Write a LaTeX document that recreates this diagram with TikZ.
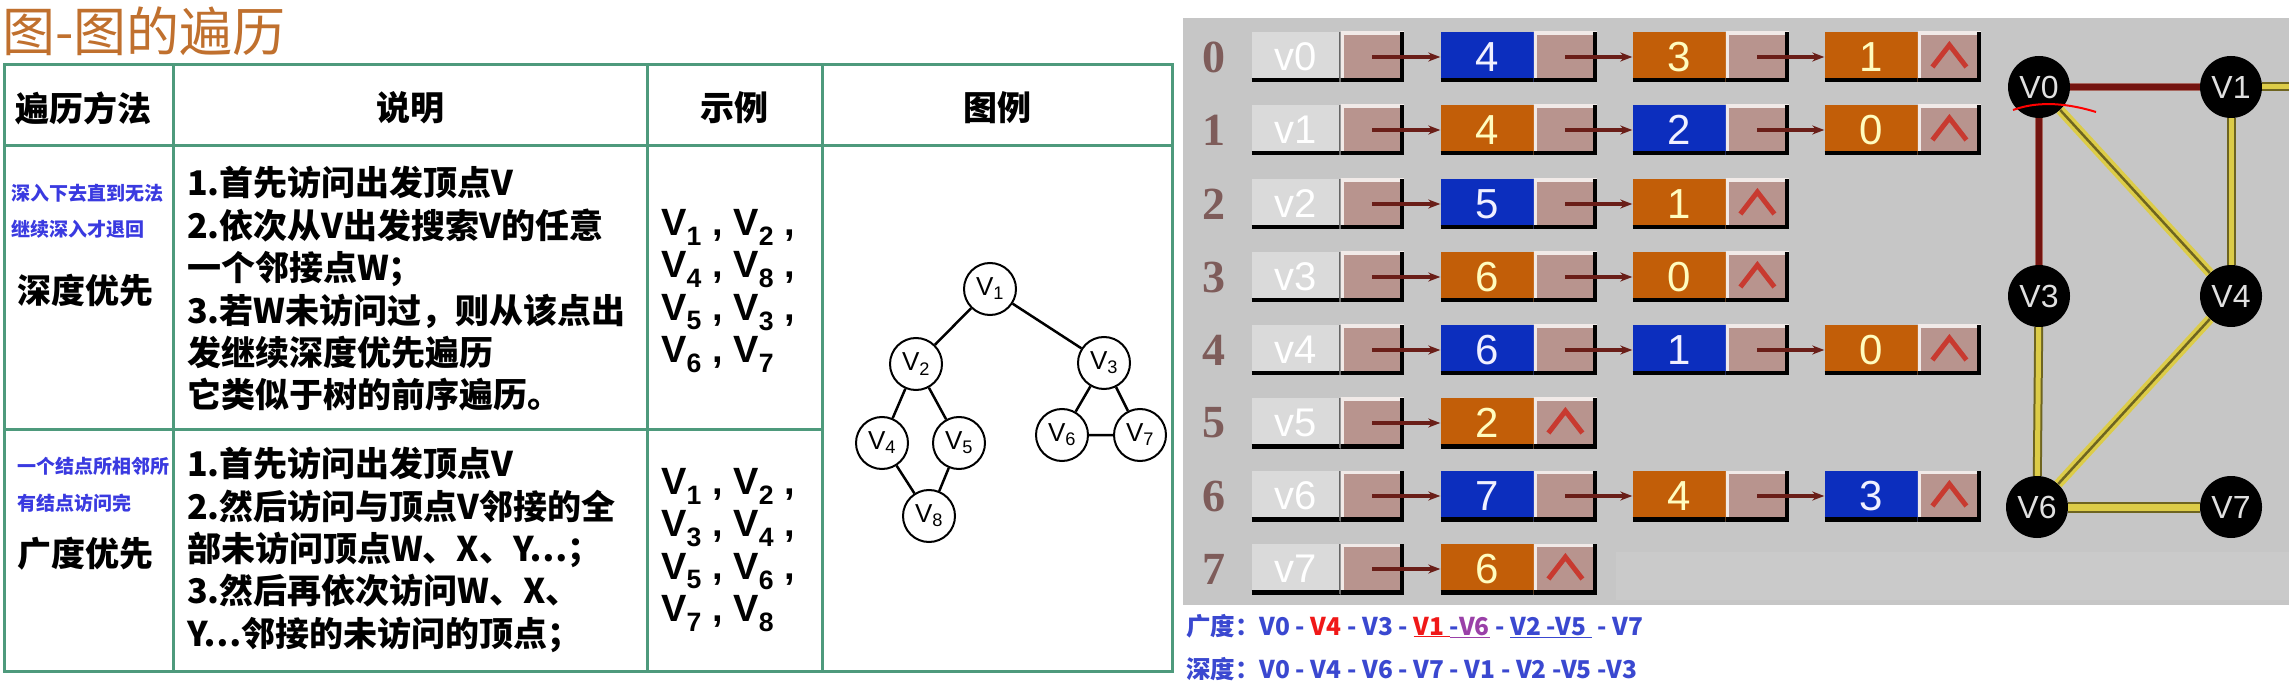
\documentclass[tikz,border=0pt]{standalone}
\usepackage{fontspec}
\setmainfont{Liberation Sans}
\newfontfamily\cjk{Noto Sans CJK SC}
\newfontfamily\numserif{Liberation Serif}
\usetikzlibrary{arrows.meta,positioning}

\definecolor{titlebrown}{HTML}{C0702E}
\definecolor{tabgreen}{HTML}{4E9A7C}
\definecolor{noteblue}{HTML}{3A3AE0}
\definecolor{panelgray}{HTML}{C6C6C6}
\definecolor{cellblue}{HTML}{0C2EBE}
\definecolor{cellorange}{HTML}{C25E08}
\definecolor{ptrpink}{HTML}{B8948E}
\definecolor{vexgray}{HTML}{DADADA}
\definecolor{linkred}{HTML}{6A1E18}
\definecolor{nullred}{HTML}{C83A30}
\definecolor{idxbrown}{HTML}{7E5C5A}
\definecolor{edgered}{HTML}{741410}
\definecolor{edgepink}{HTML}{A86860}
\definecolor{edgeyellow}{HTML}{DCCC48}
\definecolor{edgeolive}{HTML}{6E6420}
\definecolor{textblue}{HTML}{3A48D0}
\definecolor{textred}{HTML}{F01818}
\definecolor{textpurple}{HTML}{9A40A8}

\begin{document}
\begin{tikzpicture}[
  x=1pt,y=-1pt,
  tabline/.style={draw=tabgreen,line width=3},
  head/.style={font=\cjk\bfseries\fontsize{34}{40}\selectfont,inner sep=0},
  note/.style={font=\cjk\bfseries\fontsize{19}{22}\selectfont,text=noteblue,inner sep=0,anchor=west},
  method/.style={font=\cjk\bfseries\fontsize{34}{40}\selectfont,inner sep=0,anchor=west},
  body/.style={font=\cjk\bfseries\fontsize{34}{42.4}\selectfont,align=left,inner sep=0,anchor=west},
  vlist/.style={font=\bfseries\fontsize{38}{42.4}\selectfont,align=left,inner sep=0,anchor=west},
  gnode/.style={circle,draw,line width=2,fill=white,minimum size=52,inner sep=0,font=\fontsize{26}{26}\selectfont},
  gedge/.style={line width=2.5},
  idx/.style={font=\numserif\bfseries\fontsize{46}{46}\selectfont,text=idxbrown},
  vexbox/.style={fill=vexgray,minimum width=89,minimum height=50,inner sep=0,text=white,
    font=\fontsize{40}{40}\selectfont,
    path picture={\draw[black,line width=8] (path picture bounding box.south west) -- (path picture bounding box.south east);
      \draw[black!60,line width=4] (path picture bounding box.north east) -- (path picture bounding box.south east);}},
  cell/.style={minimum width=93,minimum height=50,inner sep=0,font=\fontsize{42}{42}\selectfont,
    path picture={\draw[black,line width=8] (path picture bounding box.south west) -- (path picture bounding box.south east);}},
  bluecell/.style={cell,fill=cellblue,text=blue!6!white},
  orangecell/.style={cell,fill=cellorange,text=yellow!25!white},
  ptr/.style={fill=ptrpink,minimum width=63,minimum height=50,inner sep=0,
    path picture={\draw[white!80!ptrpink,line width=6] (path picture bounding box.south west) -- (path picture bounding box.north west) -- (path picture bounding box.north east);
      \draw[black,line width=8] (path picture bounding box.north east) -- (path picture bounding box.south east) -- (path picture bounding box.south west);}},
  nil/.style={fill=ptrpink,minimum width=63,minimum height=50,inner sep=0,
    path picture={\draw[white!80!ptrpink,line width=6] (path picture bounding box.south west) -- (path picture bounding box.north west) -- (path picture bounding box.north east);
      \draw[black,line width=8] (path picture bounding box.north east) -- (path picture bounding box.south east) -- (path picture bounding box.south west);
      \draw[nullred,line width=5,shift={(path picture bounding box.center)}] (-17,10) -- (0,-12) -- (17,10);}},
  link/.style={-{Stealth[length=12pt,width=9pt]},linkred,line width=3.5},
  vnode/.style={circle,fill=black,minimum size=62,inner sep=0,text=white!88!black,font=\fontsize{32}{32}\selectfont},
  redge/.style={draw=edgepink,line width=1.2,double=edgered,double distance=6},
  ysingle/.style={draw=edgeolive,line width=2,double=edgeyellow,double distance=5},
  ydouble/.style={draw=edgeyellow,line width=3.5,double=edgeolive,double distance=2.5}
]
  \useasboundingbox[fill=white] (0,0) rectangle (2289,692);

  % title
  \node[font=\cjk\fontsize{53}{53}\selectfont,text=titlebrown,anchor=west,inner sep=0] (title) at (2,31) {图-图的遍历};

  % table
  \draw[tabline] (4,65) rectangle (1172,671);
  \draw[tabline] (4,146) -- (1172,146);
  \draw[tabline] (4,429) -- (822,429);
  \draw[tabline] (173,65) -- (173,671) (647,65) -- (647,671) (822,65) -- (822,671);

  \node[head] (hmethod) at (83,108) {遍历方法};
  \node[head] (hnote) at (410,108) {说明};
  \node[head] (hseq) at (734,108) {示例};
  \node[head] (hfig) at (997,108) {图例};

  \node[note] (dfstip1) at (11,193) {深入下去直到无法};
  \node[note] (dfstip2) at (11,229) {继续深入才退回};
  \node[method] (dfsname) at (17,291) {深度优先};
  \node[note] (bfstip1) at (17,466) {一个结点所相邻所};
  \node[note] (bfstip2) at (17,503) {有结点访问完};
  \node[method] (bfsname) at (17,554) {广度优先};

  \node[body] (dfsnote) at (187,289) {1.首先访问出发顶点V\\2.依次从V出发搜索V的任意\\一个邻接点W；\\3.若W未访问过，则从该点出\\发继续深度优先遍历\\它类似于树的前序遍历。};
  \node[body] (bfsnote) at (187,550) {1.首先访问出发顶点V\\2.然后访问与顶点V邻接的全\\部未访问顶点W、X、Y…；\\3.然后再依次访问W、X、\\Y…邻接的未访问的顶点；};

  \node[vlist] (dfsseq) at (661,291) {V\textsubscript{1} , V\textsubscript{2} ,\\V\textsubscript{4} , V\textsubscript{8} ,\\V\textsubscript{5} , V\textsubscript{3} ,\\V\textsubscript{6} , V\textsubscript{7}};
  \node[vlist] (bfsseq) at (661,550) {V\textsubscript{1} , V\textsubscript{2} ,\\V\textsubscript{3} , V\textsubscript{4} ,\\V\textsubscript{5} , V\textsubscript{6} ,\\V\textsubscript{7} , V\textsubscript{8}};

  % example graph
  \node[gnode] (g1) at (990,289) {V\textsubscript{1}};
  \node[gnode] (g2) at (916,364) {V\textsubscript{2}};
  \node[gnode] (g3) at (1104,363) {V\textsubscript{3}};
  \node[gnode] (g4) at (882,443) {V\textsubscript{4}};
  \node[gnode] (g5) at (959,443) {V\textsubscript{5}};
  \node[gnode] (g6) at (1062,435) {V\textsubscript{6}};
  \node[gnode] (g7) at (1140,435) {V\textsubscript{7}};
  \node[gnode] (g8) at (929,516) {V\textsubscript{8}};
  \draw[gedge] (g1) -- (g2) (g1) -- (g3) (g2) -- (g4) (g2) -- (g5)
    (g4) -- (g8) (g5) -- (g8) (g3) -- (g6) (g3) -- (g7) (g6) -- (g7);

  % adjacency list panel
  \fill[panelgray] (1183,18) rectangle (2289,605);
  \fill[panelgray!92!white] (1616,552) rectangle (2289,600);

  \node[idx] (i0) at (1214,57) {0};
  \node[vexbox] (vx0) at (1296,57) {v0}; \node[ptr,right=0pt of vx0] (vp0) {};
  \node[bluecell] (n0a) at (1487,57) {4}; \node[ptr,right=0pt of n0a] (p0a) {};
  \node[orangecell] (n0b) at (1679,57) {3}; \node[ptr,right=0pt of n0b] (p0b) {};
  \node[orangecell] (n0c) at (1871,57) {1}; \node[nil,right=0pt of n0c] (p0c) {};
  \draw[link] (vp0.center) -- (n0a.west); \draw[link] (p0a.center) -- (n0b.west); \draw[link] (p0b.center) -- (n0c.west);

  \node[idx] (i1) at (1214,130) {1};
  \node[vexbox] (vx1) at (1296,130) {v1}; \node[ptr,right=0pt of vx1] (vp1) {};
  \node[orangecell] (n1a) at (1487,130) {4}; \node[ptr,right=0pt of n1a] (p1a) {};
  \node[bluecell] (n1b) at (1679,130) {2}; \node[ptr,right=0pt of n1b] (p1b) {};
  \node[orangecell] (n1c) at (1871,130) {0}; \node[nil,right=0pt of n1c] (p1c) {};
  \draw[link] (vp1.center) -- (n1a.west); \draw[link] (p1a.center) -- (n1b.west); \draw[link] (p1b.center) -- (n1c.west);

  \node[idx] (i2) at (1214,204) {2};
  \node[vexbox] (vx2) at (1296,204) {v2}; \node[ptr,right=0pt of vx2] (vp2) {};
  \node[bluecell] (n2a) at (1487,204) {5}; \node[ptr,right=0pt of n2a] (p2a) {};
  \node[orangecell] (n2b) at (1679,204) {1}; \node[nil,right=0pt of n2b] (p2b) {};
  \draw[link] (vp2.center) -- (n2a.west); \draw[link] (p2a.center) -- (n2b.west);

  \node[idx] (i3) at (1214,277) {3};
  \node[vexbox] (vx3) at (1296,277) {v3}; \node[ptr,right=0pt of vx3] (vp3) {};
  \node[orangecell] (n3a) at (1487,277) {6}; \node[ptr,right=0pt of n3a] (p3a) {};
  \node[orangecell] (n3b) at (1679,277) {0}; \node[nil,right=0pt of n3b] (p3b) {};
  \draw[link] (vp3.center) -- (n3a.west); \draw[link] (p3a.center) -- (n3b.west);

  \node[idx] (i4) at (1214,350) {4};
  \node[vexbox] (vx4) at (1296,350) {v4}; \node[ptr,right=0pt of vx4] (vp4) {};
  \node[bluecell] (n4a) at (1487,350) {6}; \node[ptr,right=0pt of n4a] (p4a) {};
  \node[bluecell] (n4b) at (1679,350) {1}; \node[ptr,right=0pt of n4b] (p4b) {};
  \node[orangecell] (n4c) at (1871,350) {0}; \node[nil,right=0pt of n4c] (p4c) {};
  \draw[link] (vp4.center) -- (n4a.west); \draw[link] (p4a.center) -- (n4b.west); \draw[link] (p4b.center) -- (n4c.west);

  \node[idx] (i5) at (1214,423) {5};
  \node[vexbox] (vx5) at (1296,423) {v5}; \node[ptr,right=0pt of vx5] (vp5) {};
  \node[orangecell] (n5a) at (1487,423) {2}; \node[nil,right=0pt of n5a] (p5a) {};
  \draw[link] (vp5.center) -- (n5a.west);

  \node[idx] (i6) at (1214,496) {6};
  \node[vexbox] (vx6) at (1296,496) {v6}; \node[ptr,right=0pt of vx6] (vp6) {};
  \node[bluecell] (n6a) at (1487,496) {7}; \node[ptr,right=0pt of n6a] (p6a) {};
  \node[orangecell] (n6b) at (1679,496) {4}; \node[ptr,right=0pt of n6b] (p6b) {};
  \node[bluecell] (n6c) at (1871,496) {3}; \node[nil,right=0pt of n6c] (p6c) {};
  \draw[link] (vp6.center) -- (n6a.west); \draw[link] (p6a.center) -- (n6b.west); \draw[link] (p6b.center) -- (n6c.west);

  \node[idx] (i7) at (1214,569) {7};
  \node[vexbox] (vx7) at (1296,569) {v7}; \node[ptr,right=0pt of vx7] (vp7) {};
  \node[orangecell] (n7a) at (1487,569) {6}; \node[nil,right=0pt of n7a] (p7a) {};
  \draw[link] (vp7.center) -- (n7a.west);

  % graph beside the list
  \node[vnode] (v0) at (2039,87) {V0};
  \node[vnode] (v1) at (2231,87) {V1};
  \node[vnode] (v3) at (2039,296) {V3};
  \node[vnode] (v4) at (2231,296) {V4};
  \node[vnode] (v6) at (2037,507) {V6};
  \node[vnode] (v7) at (2231,507) {V7};
  \coordinate (offv1) at (2289,87);
  \draw[redge] (v0) -- (v1);
  \draw[redge] (v0) -- (v3);
  \draw[ydouble] (v0) -- (v4);
  \draw[ysingle] (v1) -- (v4);
  \draw[ysingle] (v1) -- (offv1);
  \draw[ysingle] (v3) -- (v6);
  \draw[ydouble] (v4) -- (v6);
  \draw[ysingle,double distance=7] (v6) -- (v7);
  \draw[red,line width=2] (2013,110) .. controls (2040,100) and (2070,104) .. (2096,112);

  % visiting orders
  \node[font=\cjk\bfseries\fontsize{24.5}{24}\selectfont,text=textblue,anchor=west,inner sep=0] (bfs) at (1186,626)
    {广度：V0 - \textcolor{textred}{V4} - V3 - \textcolor{textred}{\underline{V1 }}\textcolor{textpurple}{\underline{\textcolor{textblue}{-}V6}} - \underline{V2 -V5 } - V7};
  \node[font=\cjk\bfseries\fontsize{24.5}{24}\selectfont,text=textblue,anchor=west,inner sep=0] (dfs) at (1186,669)
    {深度：V0 - V4 - V6 - V7 - V1 - V2 -V5 -V3};
\end{tikzpicture}
\end{document}
